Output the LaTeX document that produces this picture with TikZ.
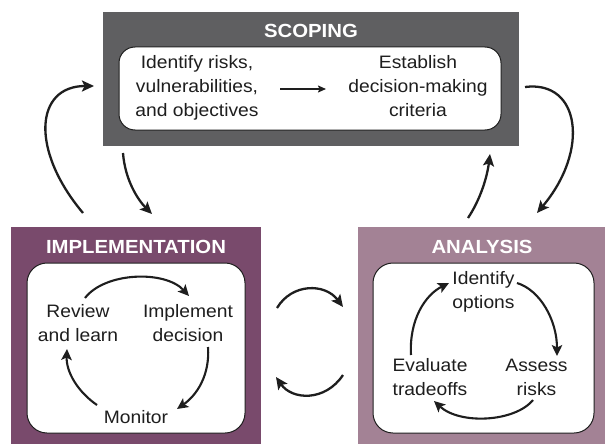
\documentclass[tikz,border=0pt]{standalone}
\usepackage{fontspec}
\setmainfont[FakeStretch=1.07]{Liberation Sans}
\usetikzlibrary{arrows.meta}
\definecolor{scopegray}{HTML}{5F5F61}
\definecolor{implpurple}{HTML}{794A6C}
\definecolor{anamauve}{HTML}{A38295}
\definecolor{edge}{HTML}{1E1E1E}
\begin{document}
\begin{tikzpicture}[x=1pt,y=-1pt,
  panel/.style={draw=none, inner sep=0pt, outer sep=0pt},
  innerbox/.style={draw=edge, line width=1pt, fill=white, inner sep=0pt, outer sep=0pt},
  title/.style={font=\fontsize{19}{22}\selectfont\bfseries, text=white, anchor=base, inner sep=0pt},
  body/.style={font=\fontsize{18}{24}\selectfont, align=center, anchor=base, inner sep=0pt, text=edge},
  flow/.style={draw=edge, line width=2.3pt, -{Stealth[length=12pt,width=11pt,inset=2.5pt]}},
  cycle/.style={draw=edge, line width=2.1pt, -{Stealth[length=11pt,width=10.5pt,inset=2.5pt]}},
  small/.style={draw=edge, line width=1.8pt, -{Stealth[length=8pt,width=7pt,inset=1.5pt]}},
]
\useasboundingbox (0,0) rectangle (605,444);

% panels
\node[panel, fill=scopegray, minimum width=416, minimum height=134] (scoping) at (311,79) {};
\node[innerbox, rounded corners=16pt, minimum width=382, minimum height=83] (scopeinner) at (310,88.5) {};
\node[panel, fill=implpurple, minimum width=250, minimum height=217] (impl) at (136,335.5) {};
\node[innerbox, rounded corners=20pt, minimum width=218, minimum height=170] (implinner) at (136,348) {};
\node[panel, fill=anamauve, minimum width=247, minimum height=217] (ana) at (481.5,335.5) {};
\node[innerbox, rounded corners=20pt, minimum width=221, minimum height=170] (anainner) at (483.5,348) {};

% titles
\node[title] (scopetitle) at (311,38) {SCOPING};
\node[title] (impltitle) at (136,253) {IMPLEMENTATION};
\node[title] (anatitle) at (482,253) {ANALYSIS};

% texts (anchor=base is the last line's baseline)
\node[body] (identify) at (197,116.7) {Identify risks,\\vulnerabilities,\\and objectives};
\node[body] (establish) at (418,116.7) {Establish\\decision-making\\criteria};
\node[body] (review) at (78,341) {Review\\and learn};
\node[body] (implement) at (188,341) {Implement\\decision};
\node[body] (monitor) at (136,423) {Monitor};
\node[body] (idopt) at (483.5,308) {Identify\\options};
\node[body] (assess) at (536.5,395) {Assess\\risks};
\node[body] (evaluate) at (430,395) {Evaluate\\tradeoffs};

% connector end points
\coordinate (l0) at (83,213);   \coordinate (l1) at (94,86);
\coordinate (r0) at (525,87);   \coordinate (r1) at (537,213);
\coordinate (d0) at (123,153);  \coordinate (d1) at (152,214);
\coordinate (u0) at (468,218);  \coordinate (u1) at (490,154);
\coordinate (m0) at (277,308);  \coordinate (m1) at (343,307);
\coordinate (n0) at (343,375);  \coordinate (n1) at (276,377);
\coordinate (s0) at (280,89);   \coordinate (s1) at (326,89);
\coordinate (ia0) at (85,298);  \coordinate (ia1) at (189,296);
\coordinate (ib0) at (208,347); \coordinate (ib1) at (177,409);
\coordinate (ic0) at (97,405);  \coordinate (ic1) at (67,349);
\coordinate (aa0) at (517,283); \coordinate (aa1) at (557,356);
\coordinate (ab0) at (533,400); \coordinate (ab1) at (434,401);
\coordinate (ac0) at (411,355); \coordinate (ac1) at (449,283);

% big connectors
\draw[flow] (l0) .. controls (30,150) and (35,86) .. (l1);
\draw[flow] (r0) .. controls (580,80) and (590,150) .. (r1);
\draw[flow] (d0) .. controls (125,180) and (138,200) .. (d1);
\draw[flow] (u0) .. controls (480,200) and (487,178) .. (u1);
\draw[flow] (m0) .. controls (292,283) and (325,283) .. (m1);
\draw[flow] (n0) .. controls (325,402) and (292,400) .. (n1);

% scoping arrow
\draw[small] (s0) -- (s1);

% implementation cycle
\draw[cycle] (ia0) .. controls (105,272) and (165,270) .. (ia1);
\draw[cycle] (ib0) .. controls (210,375) and (197,395) .. (ib1);
\draw[cycle] (ic0) .. controls (78,392) and (66,372) .. (ic1);

% analysis cycle
\draw[cycle] (aa0) .. controls (540,290) and (557,320) .. (aa1);
\draw[cycle] (ab0) .. controls (515,422) and (460,425) .. (ab1);
\draw[cycle] (ac0) .. controls (409,320) and (425,295) .. (ac1);
\end{tikzpicture}
\end{document}
